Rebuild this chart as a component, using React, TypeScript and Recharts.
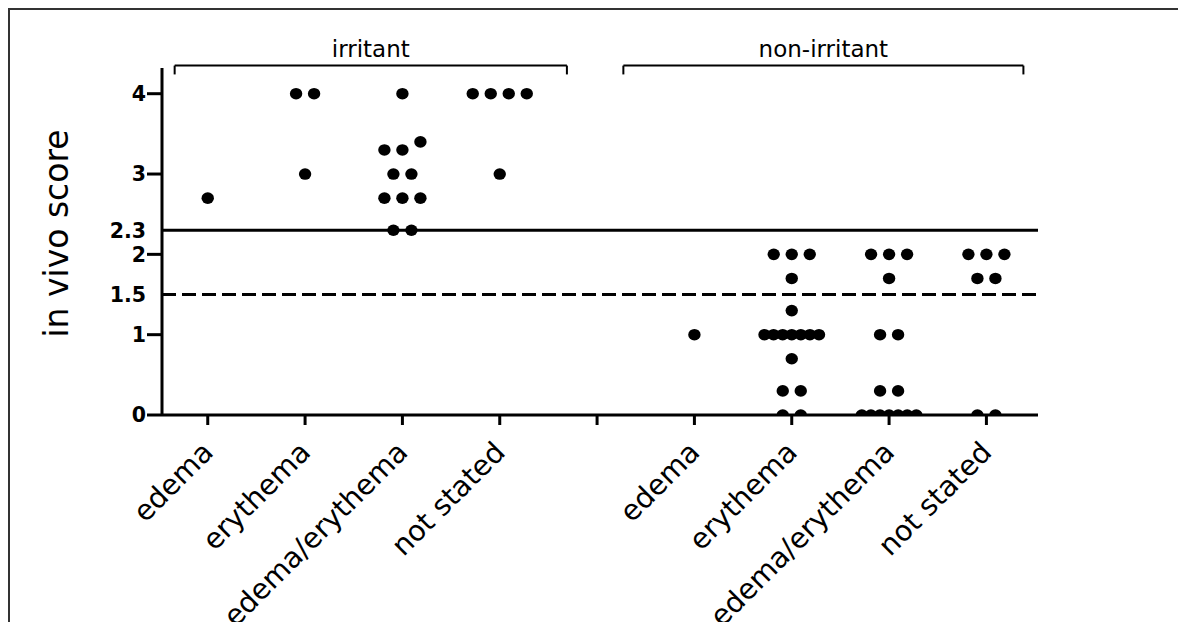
import { ScatterChart, Scatter, XAxis, YAxis, ReferenceLine } from "recharts";

const CATEGORIES = ["edema", "erythema", "edema/erythema", "not stated"];
// x positions of the categories, 5 is the empty gap between the two groups
const IRRITANT_POS = [1, 2, 3, 4];
const NON_IRRITANT_POS = [6, 7, 8, 9];

// in vivo scores, irritant group
const IRR_EDEMA = [2.7];
const IRR_ERYTHEMA = [4, 4, 3];
const IRR_BOTH = [4, 3.4, 3.3, 3.3, 3, 3, 2.7, 2.7, 2.7, 2.3, 2.3];
const IRR_NOT_STATED = [4, 4, 4, 4, 3];

// in vivo scores, non-irritant group
const NON_EDEMA = [1];
const NON_ERYTHEMA = [2, 2, 2, 1.7, 1.3, 1, 1, 1, 1, 1, 1, 1, 0.7, 0.3, 0.3, 0, 0];
const NON_BOTH = [2, 2, 2, 1.7, 1, 1, 0.3, 0.3, 0, 0, 0, 0, 0, 0, 0];
const NON_NOT_STATED = [2, 2, 2, 1.7, 1.7, 0, 0];

const Y_TICKS = [0, 1, 1.5, 2, 2.3, 3, 4];
const X_TICKS = [1, 2, 3, 4, 5, 6, 7, 8, 9];
const IRRITANT_CUTOFF = 2.3;
const BORDERLINE_CUTOFF = 1.5;

// group brackets, in x axis units
const BRACKETS = [
  { label: "irritant", from: 0.66, to: 4.69 },
  { label: "non-irritant", from: 5.27, to: 9.38 },
];
const BRACKET_Y = 4.35;
const BRACKET_DROP = 4.24;

const FONT = "DejaVu Sans";
const PLOT_LEFT = 152;

// spread equal-ish values sideways like a column scatter plot
function swarm(values: number[], pos: number) {
  const sorted = [...values].sort((a, b) => a - b);
  const rows: number[][] = [];
  for (const v of sorted) {
    const row = rows[rows.length - 1];
    if (row && v - row[0] < 0.15) row.push(v);
    else rows.push([v]);
  }
  return rows.flatMap((row) => {
    const step = row.length > 1 ? Math.min(0.185, 0.56 / (row.length - 1)) : 0;
    return row.map((y, i) => ({ x: pos + (i - (row.length - 1) / 2) * step, y }));
  });
}

const points = [
  ...[IRR_EDEMA, IRR_ERYTHEMA, IRR_BOTH, IRR_NOT_STATED].flatMap((v, i) =>
    swarm(v, IRRITANT_POS[i])
  ),
  ...[NON_EDEMA, NON_ERYTHEMA, NON_BOTH, NON_NOT_STATED].flatMap((v, i) =>
    swarm(v, NON_IRRITANT_POS[i])
  ),
];

const tickLabel = (v: number) => {
  const i = IRRITANT_POS.indexOf(v);
  if (i >= 0) return CATEGORIES[i];
  const j = NON_IRRITANT_POS.indexOf(v);
  return j >= 0 ? CATEGORIES[j] : "";
};

function XTick({ x, y, payload }: any) {
  const label = tickLabel(payload.value);
  if (!label) return null;
  const tx = x + 7;
  const ty = y + 27;
  return (
    <text
      x={tx}
      y={ty}
      transform={`rotate(-45 ${tx} ${ty})`}
      textAnchor="end"
      fontFamily={FONT}
      fontSize={28.5}
      fill="#000"
    >
      {label}
    </text>
  );
}

function YTick({ y, payload }: any) {
  const v = payload.value;
  return (
    <g>
      {Number.isInteger(v) && (
        <line x1={PLOT_LEFT - 15} x2={PLOT_LEFT} y1={y} y2={y} stroke="#000" strokeWidth={3} />
      )}
      <text
        x={PLOT_LEFT - 16}
        y={y}
        dy="0.36em"
        textAnchor="end"
        fontFamily={FONT}
        fontWeight="bold"
        fontSize={20.5}
        fill="#000"
      >
        {v}
      </text>
    </g>
  );
}

function YTitle({ viewBox }: any) {
  const vb = viewBox ?? { x: 0, y: 58, height: 347 };
  const x = vb.x + 58;
  const y = vb.y + vb.height / 2 - 8;
  return (
    <text
      x={x}
      y={y}
      transform={`rotate(-90 ${x} ${y})`}
      textAnchor="middle"
      fontFamily={FONT}
      fontSize={33}
      fill="#000"
    >
      in vivo score
    </text>
  );
}

export default function App() {
  return (
    <div
      style={{
        width: 1178,
        height: 614,
        boxSizing: "border-box",
        borderTop: "2px solid #333",
        borderLeft: "2px solid #333",
        overflow: "hidden",
      }}
    >
      <ScatterChart
        width={1176}
        height={612}
        margin={{ top: 58, right: 148, bottom: 57, left: 0 }}
      >
        <XAxis
          type="number"
          dataKey="x"
          domain={[0.53, 9.53]}
          ticks={X_TICKS}
          allowDataOverflow
          height={150}
          axisLine={{ stroke: "#000", strokeWidth: 3 }}
          tickLine={{ stroke: "#000", strokeWidth: 3 }}
          tickSize={10}
          tick={<XTick />}
          interval={0}
        />
        <YAxis
          type="number"
          dataKey="y"
          domain={[0, 4.32]}
          ticks={Y_TICKS}
          allowDataOverflow
          width={PLOT_LEFT}
          axisLine={{ stroke: "#000", strokeWidth: 3 }}
          tickLine={false}
          tick={<YTick />}
          interval={0}
          label={<YTitle />}
        />
        <ReferenceLine y={IRRITANT_CUTOFF} stroke="#000" strokeWidth={3} />
        <ReferenceLine
          y={BORDERLINE_CUTOFF}
          stroke="#000"
          strokeWidth={3}
          strokeDasharray="14 6"
        />
        {BRACKETS.map((b) => (
          <ReferenceLine
            key={b.label}
            segment={[
              { x: b.from, y: BRACKET_Y },
              { x: b.to, y: BRACKET_Y },
            ]}
            ifOverflow="visible"
            stroke="#000"
            strokeWidth={2}
            label={{
              value: b.label,
              position: "top",
              offset: 9,
              fontSize: 23,
              fontFamily: FONT,
              fill: "#000",
            }}
          />
        ))}
        {BRACKETS.flatMap((b) =>
          [b.from, b.to].map((x) => (
            <ReferenceLine
              key={`${b.label}-${x}`}
              segment={[
                { x, y: BRACKET_Y },
                { x, y: BRACKET_DROP },
              ]}
              ifOverflow="visible"
              stroke="#000"
              strokeWidth={2}
            />
          ))
        )}
        <Scatter
          data={points}
          isAnimationActive={false}
          shape={(p: any) => <ellipse cx={p.cx} cy={p.cy} rx={6.2} ry={5.8} fill="#000" />}
        />
      </ScatterChart>
    </div>
  );
}
